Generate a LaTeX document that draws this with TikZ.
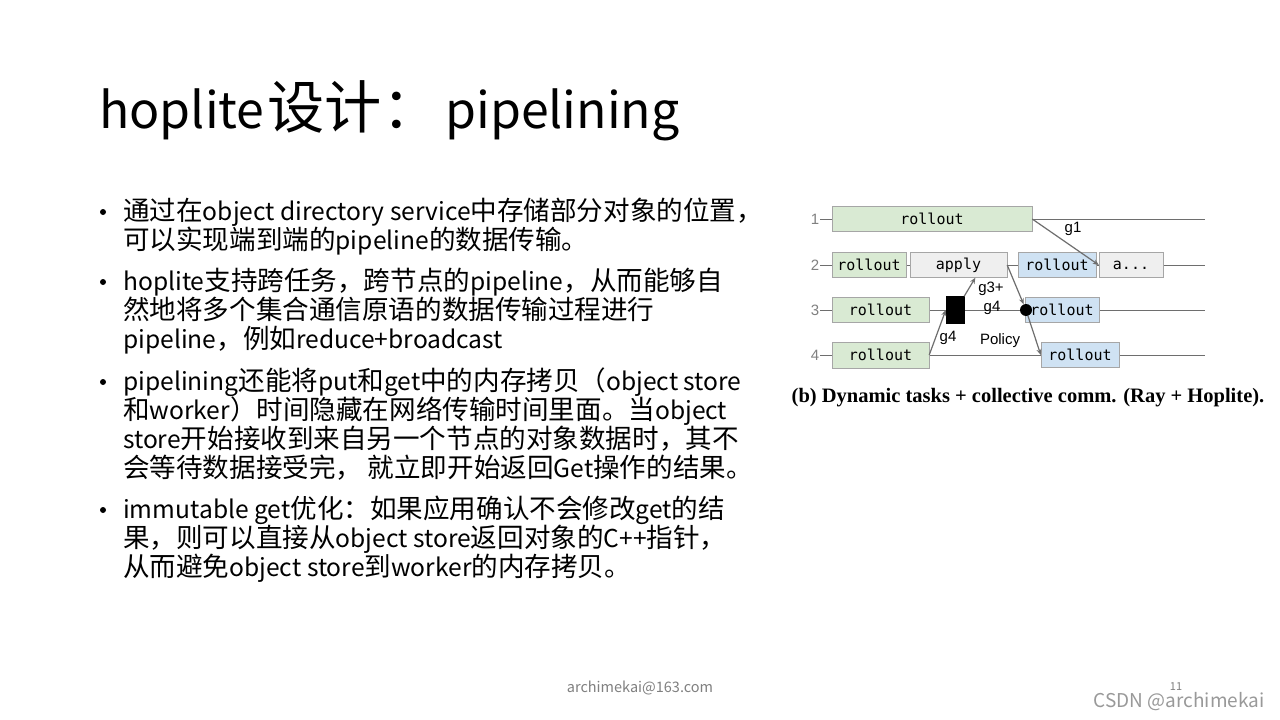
\documentclass[tikz,border=0pt]{standalone}
\usepackage{fontspec}
\setmainfont{Noto Sans CJK SC}
\newfontfamily\cjkfont{Noto Sans CJK SC}[Scale=1.08]
\newfontfamily\boxfont{DejaVu Sans Mono}
\newfontfamily\labfont{Liberation Sans}
\newfontfamily\capfont{Liberation Serif}
\usetikzlibrary{calc}
\usetikzlibrary{arrows.meta}

% CJK characters are set a little larger than the Latin ones
\makeatletter
\newXeTeXintercharclass\cjkcls
\count@="3000
\loop\ifnum\count@<"A000 \XeTeXcharclass\count@=\cjkcls \advance\count@ by 1 \repeat
\count@="FF00
\loop\ifnum\count@<"FFF0 \XeTeXcharclass\count@=\cjkcls \advance\count@ by 1 \repeat
\makeatother
\XeTeXinterchartoks 0 \cjkcls = {\cjkfont}
\XeTeXinterchartoks 4095 \cjkcls = {\cjkfont}
\XeTeXinterchartoks \cjkcls 0 = {\rmfamily}
\XeTeXinterchartoks \cjkcls 4095 = {\rmfamily}
\XeTeXinterchartokenstate=1

\definecolor{taskgreen}{HTML}{D9EAD3}
\definecolor{taskblue}{HTML}{CFE2F3}
\definecolor{taskgray}{HTML}{EFEFEF}
\definecolor{linegray}{HTML}{6E6E6E}

\tikzset{
    task/.style={draw=gray!70, inner sep=0, minimum height=25pt, font=\boxfont\fontsize{15}{15}\selectfont},
    grtask/.style={task, fill=taskgreen},
    bltask/.style={task, fill=taskblue},
    gytask/.style={task, fill=taskgray},
    rowlab/.style={text=gray, font=\labfont\fontsize{15}{15}\selectfont, inner sep=1pt},
    glab/.style={font=\labfont\fontsize{15}{15}\selectfont, inner sep=0},
    flow/.style={draw=linegray, line width=1.2pt, -{Stealth[length=6pt,width=5pt]}},
    para/.style={anchor=base west, inner sep=0, font=\fontsize{24.6}{29}\selectfont},
}

\begin{document}
\begin{tikzpicture}[x=1pt, y=-1pt]
    \useasboundingbox[fill=white] (0,0) rectangle (1280,720);

    % title
    \node[anchor=base west, inner sep=0, font=\fontsize{50}{50}\selectfont] (title) at (99, 128) {hoplite\hspace{3pt}{\fontsize{53}{53}\selectfont 设计：}\hspace{6pt}pipelining};

    % bullets
    \foreach \by in {220, 290, 390, 518}
        \fill ($(103, \by)+(0,-8)$) circle (3pt);
    \node[para] (l1) at (123, 220) {通过在object directory service中存储部分对象的位置，};
    \node[para] (l2) at (123, 249) {可以实现端到端的pipeline的数据传输。};
    \node[para] (l3) at (123, 290) {hoplite支持跨任务，跨节点的pipeline，从而能够自};
    \node[para] (l4) at (123, 319) {然地将多个集合通信原语的数据传输过程进行};
    \node[para] (l5) at (123, 348) {pipeline，例如reduce+broadcast};
    \node[para] (l6) at (123, 390) {pipelining还能将put和get中的内存拷贝（object store};
    \node[para] (l7) at (123, 419) {和worker）时间隐藏在网络传输时间里面。当object};
    \node[para] (l8) at (123, 448) {store开始接收到来自另一个节点的对象数据时，其不};
    \node[para] (l9) at (123, 477) {会等待数据接受完， 就立即开始返回Get操作的结果。};
    \node[para] (l10) at (123, 518) {immutable get优化：如果应用确认不会修改get的结};
    \node[para] (l11) at (123, 547) {果，则可以直接从object store返回对象的C++指针，};
    \node[para] (l12) at (123, 576) {从而避免object store到worker的内存拷贝。};

    % timelines
    \node[rowlab] (n1) at (815, 219) {1};
    \node[rowlab] (n2) at (815, 265) {2};
    \node[rowlab] (n3) at (815, 310) {3};
    \node[rowlab] (n4) at (815, 355) {4};
    \foreach \r in {1,...,4}
        \draw[linegray, line width=0.9pt] (n\r.east) -- (n\r.east -| 1205, 0);

    % tasks
    \node[grtask, minimum width=200pt] (r1) at (932, 219) {rollout};
    \node[grtask, minimum width=74pt] (r2) at (869, 265) {rollout};
    \node[gytask, minimum width=97pt] (apply) at (958.5, 265) {apply};
    \node[bltask, minimum width=78pt] (b2) at (1057, 265) {rollout};
    \node[gytask, minimum width=64pt] (dots) at (1131, 265) {a...};
    \node[grtask, minimum width=97pt] (r3) at (880.5, 310) {rollout};
    \node[draw=black, fill=black, minimum width=18pt, minimum height=27pt, inner sep=0] (blk) at (955, 310) {};
    \node[bltask, minimum width=74pt] (b3) at (1062, 310) {rollout};
    \node[grtask, minimum width=97pt, minimum height=26pt] (r4) at (880.5, 355) {rollout};
    \node[bltask, minimum width=78pt] (b4) at (1080, 355) {rollout};
    \node[circle, fill=black, minimum size=12pt, inner sep=0] (dot) at (1026, 310) {};

    % transfers
    \draw[flow] (r1.east) -- (dots.west);
    \draw[flow] (r4.east) -- (blk.west);
    \draw[flow] (blk.north east) -- (apply.-37);
    \draw[flow] (apply.east) -- (dot);
    \draw[flow] (dot) -- (b4.west);

    \node[glab] (g1) at (1073, 229) {g1};
    \node[glab] (g34) at (991, 289) {g3+};
    \node[glab] (g4a) at (992, 308) {g4};
    \node[glab] (g4b) at (948, 338) {g4};
    \node[glab] (pol) at (1000, 341) {Policy};

    \node[font=\capfont\bfseries\fontsize{20.5}{20.5}\selectfont, inner sep=0] (cap) at (1028, 398) {(b) Dynamic tasks + collective comm. (Ray + Hoplite).};

    % footer
    \node[text=gray, font=\fontsize{14.5}{14.5}\selectfont, inner sep=0] (mail) at (640, 688) {archimekai@163.com};
    \node[text=gray, font=\fontsize{11}{11}\selectfont, inner sep=0] (pg) at (1176, 687) {11};
    \node[text=gray!80, font=\fontsize{19}{19}\selectfont, inner sep=0] (csdn) at (1179, 702) {CSDN @archimekai};
\end{tikzpicture}
\end{document}
